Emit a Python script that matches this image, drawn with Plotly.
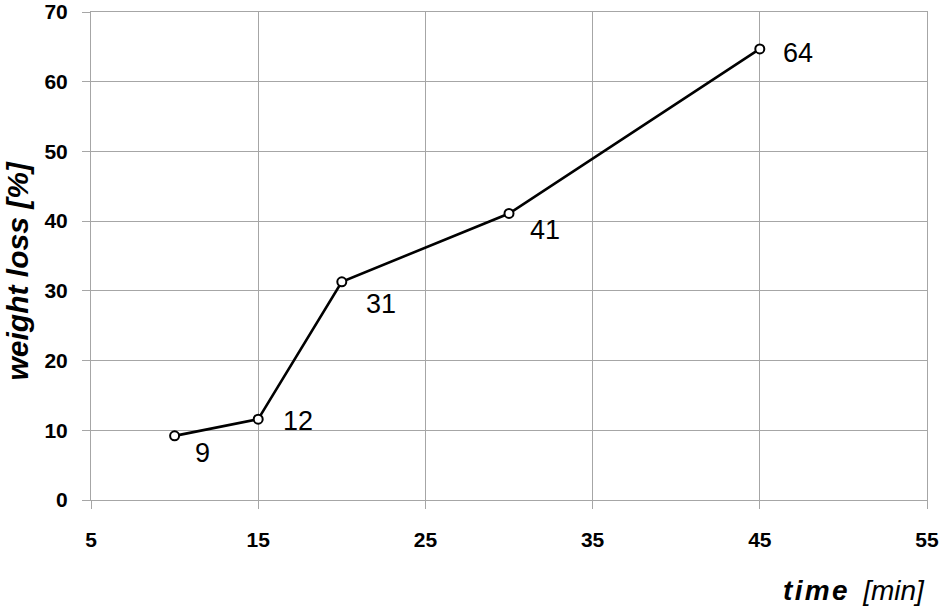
import plotly.graph_objects as go

time_min = [10, 15, 20, 30, 45]
weight_loss = [9.2, 11.6, 31.3, 41.1, 64.7]
point_labels = ["9", "12", "31", "41", "64"]
label_dx = [28, 40, 39, 36, 38]
label_dy = [-17, -2, -22, -17, -4]

x_ticks = [5, 15, 25, 35, 45, 55]
y_ticks = [0, 10, 20, 30, 40, 50, 60, 70]

FONT = "Liberation Sans, Arial, sans-serif"
GRID = "#a6a6a6"
HS = "\u200a"

fig = go.Figure()
fig.add_trace(go.Scatter(
    x=time_min, y=weight_loss, mode="lines+markers",
    line=dict(color="black", width=2.6),
    marker=dict(symbol="circle", size=9, color="white",
                line=dict(color="black", width=2)),
    showlegend=False, hoverinfo="skip", cliponaxis=False))

for x, y, t, dx, dy in zip(time_min, weight_loss, point_labels, label_dx, label_dy):
    fig.add_annotation(x=x, y=y, text=t, showarrow=False,
                       xshift=dx, yshift=dy,
                       font=dict(family=FONT, size=27, color="black"))

fig.add_annotation(xref="paper", yref="paper", x=0.9995, y=-0.186,
                   xanchor="right", yanchor="middle", showarrow=False,
                   text="<b><i>" + HS.join("time") + "</i></b>  <i>[min]</i>",
                   font=dict(family=FONT, size=28, color="black"))
fig.add_annotation(xref="paper", yref="paper", x=-0.0875, y=0.47,
                   xanchor="center", yanchor="middle", showarrow=False,
                   textangle=-90,
                   text="<b><i>weight loss [%]</i></b>",
                   font=dict(family=FONT, size=30, color="black"))

fig.update_xaxes(range=[5, 55], tickvals=x_ticks, ticktext=[str(v) for v in x_ticks],
                 showgrid=True, gridcolor=GRID, gridwidth=1,
                 ticks="outside", ticklen=8, tickcolor=GRID, tickwidth=1,
                 showline=True, linecolor=GRID, linewidth=1, mirror=True,
                 zeroline=False, ticklabelstandoff=13, automargin=False,
                 ticklabeloverflow="allow",
                 tickfont=dict(family=FONT, size=21, color="black", weight="bold"))
fig.update_yaxes(range=[0, 70], tickvals=y_ticks, ticktext=[str(v) for v in y_ticks],
                 showgrid=True, gridcolor=GRID, gridwidth=1,
                 ticks="outside", ticklen=8, tickcolor=GRID, tickwidth=1,
                 showline=True, linecolor=GRID, linewidth=1, mirror=True,
                 zeroline=False, ticklabelstandoff=10, automargin=False,
                 ticklabeloverflow="allow",
                 tickfont=dict(family=FONT, size=21, color="black", weight="bold"))

fig.update_layout(width=939, height=606,
                  margin=dict(l=91, r=12, t=12, b=106, autoexpand=False),
                  paper_bgcolor="white", plot_bgcolor="white")

fig.write_html("out.html", config={"displayModeBar": False},
               post_script="document.body.style.margin='0px';document.body.style.overflow='hidden';")
